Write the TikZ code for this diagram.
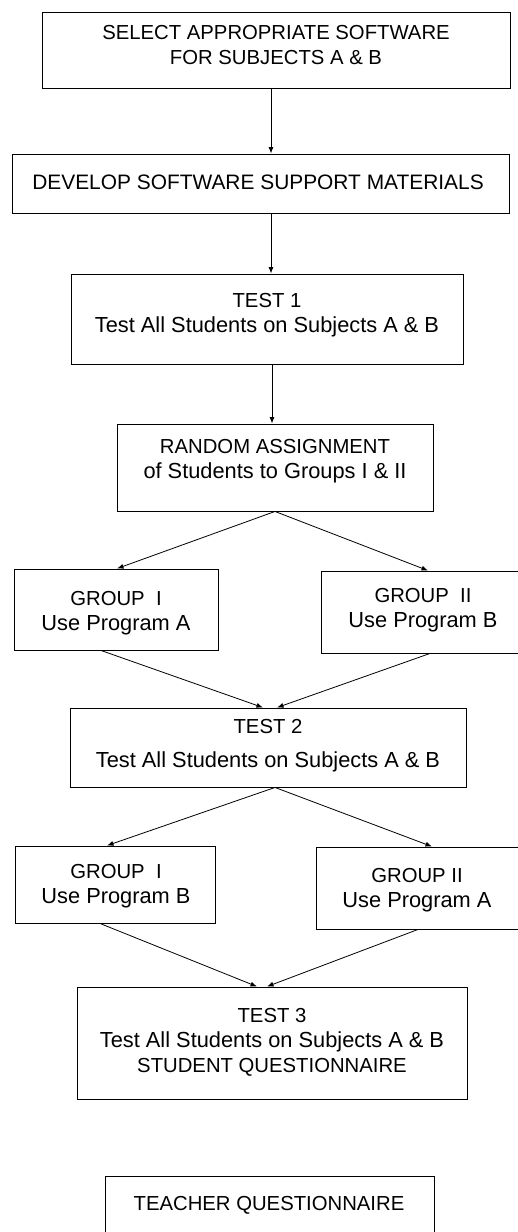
\documentclass[tikz,border=0pt]{standalone}
\usepackage{fontspec}
\setmainfont{Liberation Sans}
\usetikzlibrary{arrows.meta}
\newcommand\mixline[1]{{\fontsize{21.8}{25}\selectfont #1}}
\begin{document}
\begin{tikzpicture}[x=1pt,y=-1pt,
  box/.style={draw, line width=0.9pt, rectangle, inner sep=0pt},
  txt/.style={align=center, font=\fontsize{20.3}{25}\selectfont, inner sep=0pt},
  arr/.style={-{Latex[length=6.5pt,width=5pt]}, line width=0.8pt}]
\useasboundingbox (0,0) rectangle (518,1232);
\fill[white] (0,0) rectangle (518,1232);
\clip (0,0) rectangle (518,1232);
% boxes
\node[box, minimum width=468, minimum height=76] (b1) at (276,50) {};
\node[box, minimum width=497, minimum height=59] (b2) at (261,183.5) {};
\node[box, minimum width=392, minimum height=90] (b3) at (267,319) {};
\node[box, minimum width=316, minimum height=87] (b4) at (275,467.5) {};
\node[box, minimum width=204, minimum height=81] (g1a) at (116,609.5) {};
\node[box, minimum width=214, minimum height=82] (g2a) at (428,612) {};
\node[box, minimum width=396, minimum height=79] (t2) at (268,747.5) {};
\node[box, minimum width=200, minimum height=77] (g1b) at (115,884.5) {};
\node[box, minimum width=219, minimum height=82] (g2b) at (425.5,888) {};
\node[box, minimum width=390, minimum height=112] (t3) at (272,1043) {};
\node[box, minimum width=329, minimum height=84] (tq) at (269.5,1218) {};
% texts
\node[txt] (x1) at (276,45) {SELECT APPROPRIATE SOFTWARE\\FOR SUBJECTS A \& B};
\node[txt, font=\fontsize{20.9}{25}\selectfont] (x2) at (258,182) {DEVELOP SOFTWARE SUPPORT MATERIALS};
\node[txt] (x3) at (267,315) {TEST 1\\\mixline{Test All Students on Subjects A \& B}};
\node[txt] (x4) at (275,461) {RANDOM ASSIGNMENT\\\mixline{of Students to Groups I \& II}};
\node[txt] (xg1a) at (116,613) {GROUP\ \ I\\\mixline{Use Program A}};
\node[txt] (xg2a) at (423,610.5) {GROUP\ \ II\\\mixline{Use Program B}};
\node[txt] (xt2) at (268,746) {TEST 2\\[9pt]\mixline{Test All Students on Subjects A \& B}};
\node[txt] (xg1b) at (116,886.5) {GROUP\ \ I\\\mixline{Use Program B}};
\node[txt] (xg2b) at (417,890.5) {GROUP II\\\mixline{Use Program A}};
\node[txt] (xt3) at (272,1042) {TEST 3\\\mixline{Test All Students on Subjects A \& B}\\STUDENT QUESTIONNAIRE};
\node[txt] (xtq) at (269,1205) {TEACHER QUESTIONNAIRE};
% connectors
\draw[arr] ([xshift=-5]b1.south) -- ([xshift=10]b2.north);
\draw[arr] ([xshift=10]b2.south) -- ([xshift=4]b3.north);
\draw[arr] ([xshift=5]b3.south) -- ([xshift=-3]b4.north);
\draw[arr] (b4.south) -- ([xshift=1]g1a.north);
\draw[arr] (b4.south) -- (g2a.north);
\draw[arr] ([xshift=-15]g1a.south) -- ([xshift=-5]t2.north);
\draw[arr] ([xshift=2]g2a.south) -- ([xshift=9]t2.north);
\draw[arr] ([xshift=7]t2.south) -- ([xshift=-8]g1b.north);
\draw[arr] ([xshift=7]t2.south) -- ([xshift=6.5]g2b.north);
\draw[arr] ([xshift=-15]g1b.south) -- ([xshift=-15]t3.north);
\draw[arr] ([xshift=-7.5]g2b.south) -- ([xshift=-5]t3.north);
\end{tikzpicture}
\end{document}
